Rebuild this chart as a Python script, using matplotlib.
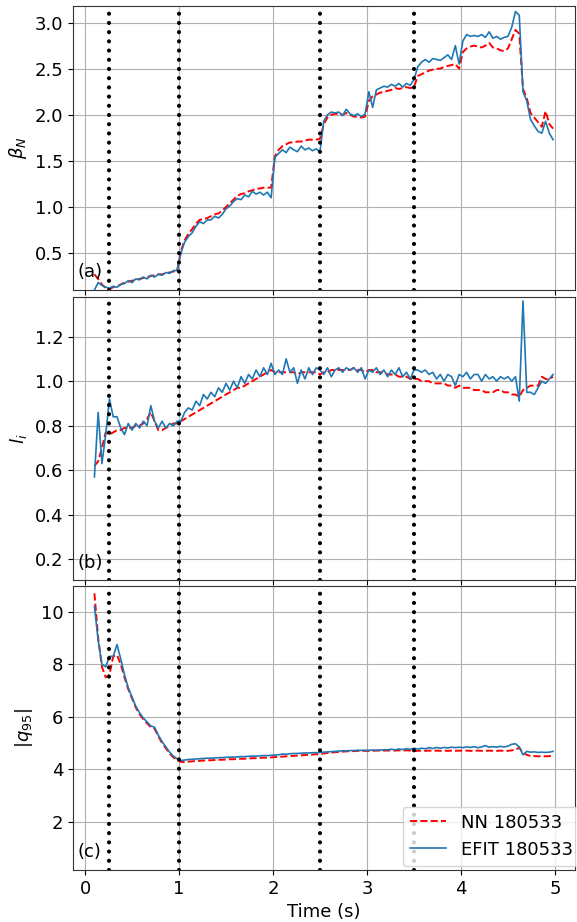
import numpy as np
import matplotlib
matplotlib.use("Agg")
import matplotlib.pyplot as plt

# Shot 180533: neural-network reconstruction vs. EFIT, sampled every 40 ms
time_s = np.round(np.arange(0.10, 4.99, 0.04), 2)

beta_efit = [
    0.10, 0.18, 0.15, 0.13, 0.12, 0.14, 0.13, 0.16, 0.17, 0.20,
    0.18, 0.22, 0.21, 0.24, 0.22, 0.26, 0.24, 0.27, 0.26, 0.29,
    0.28, 0.31, 0.31, 0.50, 0.62, 0.68, 0.72, 0.79, 0.84, 0.82,
    0.86, 0.86, 0.90, 0.88, 0.92, 0.98, 1.01, 1.06, 1.09, 1.08,
    1.13, 1.11, 1.17, 1.14, 1.16, 1.13, 1.16, 1.10, 1.54, 1.58,
    1.62, 1.59, 1.65, 1.62, 1.60, 1.66, 1.62, 1.64, 1.61, 1.63,
    1.60, 1.93, 2.00, 2.03, 2.02, 2.03, 1.99, 2.06, 2.01, 1.99,
    2.01, 1.98, 2.01, 2.25, 2.08, 2.27, 2.29, 2.31, 2.30, 2.33,
    2.31, 2.34, 2.30, 2.34, 2.32, 2.38, 2.52, 2.57, 2.60, 2.57,
    2.61, 2.60, 2.59, 2.62, 2.65, 2.60, 2.75, 2.55, 2.80, 2.87,
    2.85, 2.86, 2.85, 2.87, 2.84, 2.90, 2.83, 2.85, 2.82, 2.84,
    2.85, 2.95, 3.12, 3.08, 2.25, 2.15, 1.95, 1.88, 1.82, 1.80,
    1.93, 1.80, 1.73,
]
beta_nn = [
    0.27, 0.22, 0.16, 0.12, 0.11, 0.13, 0.14, 0.16, 0.18, 0.19,
    0.20, 0.21, 0.22, 0.23, 0.24, 0.25, 0.26, 0.27, 0.27, 0.28,
    0.29, 0.30, 0.31, 0.52, 0.64, 0.71, 0.76, 0.82, 0.86, 0.87,
    0.88, 0.90, 0.92, 0.93, 0.96, 1.00, 1.04, 1.08, 1.12, 1.14,
    1.15, 1.17, 1.18, 1.20, 1.20, 1.21, 1.21, 1.21, 1.55, 1.62,
    1.66, 1.68, 1.70, 1.70, 1.71, 1.71, 1.72, 1.73, 1.73, 1.73,
    1.74, 1.90, 1.97, 2.00, 2.01, 2.01, 2.00, 2.02, 2.00, 1.98,
    1.98, 1.97, 1.98, 2.15, 2.20, 2.22, 2.24, 2.25, 2.26, 2.27,
    2.29, 2.28, 2.29, 2.30, 2.29, 2.30, 2.42, 2.44, 2.46, 2.48,
    2.49, 2.50, 2.50, 2.52, 2.53, 2.54, 2.55, 2.50, 2.68, 2.72,
    2.74, 2.75, 2.74, 2.73, 2.75, 2.78, 2.73, 2.72, 2.70, 2.69,
    2.72, 2.82, 2.92, 2.88, 2.28, 2.18, 2.02, 1.97, 1.92, 1.87,
    2.04, 1.90, 1.85,
]

li_efit = [
    0.57, 0.86, 0.63, 0.76, 0.92, 0.84, 0.84, 0.79, 0.76, 0.81,
    0.78, 0.81, 0.79, 0.82, 0.80, 0.89, 0.82, 0.79, 0.82, 0.79,
    0.81, 0.80, 0.82, 0.82, 0.86, 0.88, 0.87, 0.91, 0.89, 0.94,
    0.92, 0.95, 0.93, 0.97, 0.95, 0.99, 0.96, 1.00, 0.97, 1.02,
    0.99, 1.03, 1.01, 1.05, 1.02, 1.06, 1.03, 1.08, 1.03, 1.05,
    1.03, 1.10, 1.04, 1.06, 0.99, 1.05, 1.01, 1.06, 1.03, 1.06,
    1.05, 1.03, 1.06, 1.02, 1.05, 1.06, 1.04, 1.06, 1.05, 1.06,
    1.04, 1.06, 1.01, 1.05, 1.04, 1.06, 1.03, 1.05, 1.02, 1.05,
    1.03, 1.06, 1.02, 1.04, 1.01, 1.05, 1.05, 1.04, 1.05, 1.03,
    1.04, 1.01, 1.03, 1.00, 1.03, 1.02, 0.98, 1.03, 1.02, 1.04,
    1.01, 1.03, 1.03, 1.00, 1.03, 1.01, 1.02, 1.00, 1.02, 1.01,
    1.02, 1.00, 1.02, 0.91, 1.36, 0.95, 0.95, 0.94, 0.97, 1.00,
    0.99, 1.01, 1.03,
]
li_nn = [
    0.62, 0.64, 0.70, 0.77, 0.76, 0.77, 0.78, 0.78, 0.79, 0.79,
    0.79, 0.80, 0.80, 0.81, 0.83, 0.86, 0.82, 0.78, 0.78, 0.79,
    0.80, 0.81, 0.81, 0.82, 0.83, 0.84, 0.85, 0.86, 0.87, 0.88,
    0.89, 0.90, 0.91, 0.92, 0.93, 0.94, 0.95, 0.96, 0.97, 0.97,
    0.98, 0.99, 1.00, 1.01, 1.02, 1.03, 1.04, 1.05, 1.04, 1.04,
    1.04, 1.04, 1.04, 1.04, 1.03, 1.04, 1.04, 1.04, 1.04, 1.04,
    1.03, 1.04, 1.04, 1.05, 1.05, 1.05, 1.05, 1.05, 1.05, 1.06,
    1.05, 1.05, 1.04, 1.05, 1.05, 1.04, 1.04, 1.04, 1.03, 1.03,
    1.03, 1.02, 1.02, 1.02, 1.01, 1.01, 1.01, 1.00, 1.00, 1.00,
    0.99, 0.99, 0.99, 0.99, 0.98, 0.98, 0.97, 0.98, 0.97, 0.97,
    0.97, 0.96, 0.96, 0.96, 0.95, 0.95, 0.95, 0.96, 0.96, 0.95,
    0.95, 0.94, 0.94, 0.93, 0.96, 0.97, 0.98, 0.98, 0.98, 1.02,
    1.01, 1.01, 1.02,
]

q95_efit = [
    10.2, 8.9, 8.0, 7.9, 8.3, 8.3, 8.75, 8.2, 7.6, 7.1,
    6.75, 6.4, 6.15, 5.95, 5.8, 5.65, 5.6, 5.3, 5.05, 4.85,
    4.65, 4.5, 4.4, 4.33, 4.35, 4.37, 4.38, 4.39, 4.40, 4.41,
    4.42, 4.42, 4.43, 4.44, 4.44, 4.45, 4.46, 4.46, 4.47, 4.48,
    4.48, 4.49, 4.50, 4.50, 4.51, 4.52, 4.52, 4.53, 4.54, 4.55,
    4.58, 4.57, 4.59, 4.60, 4.60, 4.61, 4.62, 4.62, 4.63, 4.63,
    4.64, 4.65, 4.66, 4.67, 4.68, 4.69, 4.70, 4.70, 4.71, 4.71,
    4.72, 4.72, 4.72, 4.72, 4.73, 4.72, 4.73, 4.74, 4.74, 4.76,
    4.74, 4.77, 4.75, 4.78, 4.76, 4.80, 4.77, 4.80, 4.78, 4.82,
    4.79, 4.83, 4.80, 4.83, 4.81, 4.84, 4.82, 4.84, 4.82, 4.85,
    4.83, 4.86, 4.82, 4.85, 4.90, 4.84, 4.86, 4.84, 4.87, 4.85,
    4.88, 4.95, 4.97, 4.85, 4.55, 4.68, 4.65, 4.66, 4.64, 4.65,
    4.64, 4.65, 4.68,
]
q95_nn = [
    10.7, 9.0, 7.9, 7.5, 7.6, 8.3, 8.35, 8.0, 7.5, 7.05,
    6.7, 6.35, 6.1, 5.9, 5.75, 5.6, 5.55, 5.25, 5.0, 4.8,
    4.6, 4.45, 4.35, 4.28, 4.27, 4.29, 4.30, 4.31, 4.32, 4.33,
    4.34, 4.34, 4.35, 4.36, 4.36, 4.37, 4.38, 4.38, 4.39, 4.40,
    4.40, 4.41, 4.42, 4.42, 4.43, 4.44, 4.44, 4.45, 4.46, 4.47,
    4.48, 4.49, 4.50, 4.51, 4.52, 4.53, 4.54, 4.55, 4.56, 4.57,
    4.58, 4.60, 4.62, 4.63, 4.65, 4.66, 4.67, 4.68, 4.69, 4.69,
    4.70, 4.70, 4.70, 4.70, 4.70, 4.71, 4.71, 4.71, 4.71, 4.72,
    4.71, 4.72, 4.71, 4.72, 4.71, 4.70, 4.70, 4.71, 4.70, 4.71,
    4.70, 4.71, 4.70, 4.71, 4.70, 4.71, 4.70, 4.71, 4.70, 4.71,
    4.70, 4.70, 4.71, 4.70, 4.70, 4.71, 4.70, 4.70, 4.71, 4.70,
    4.70, 4.72, 4.74, 4.82, 4.62, 4.55, 4.50, 4.50, 4.49, 4.50,
    4.49, 4.50, 4.50,
]

event_times = [0.26, 1.0, 2.5, 3.5]
panel_tags = ["(a)", "(b)", "(c)"]
y_labels = [r"$\beta_N$", r"$l_i$", r"$|q_{95}|$"]
y_ticks = [
    [0.5, 1.0, 1.5, 2.0, 2.5, 3.0],
    [0.2, 0.4, 0.6, 0.8, 1.0, 1.2],
    [2, 4, 6, 8, 10],
]
y_limits = [(0.10, 3.18), (0.107, 1.378), (0.16, 10.98)]
x_ticks = [0, 1, 2, 3, 4, 5]

plt.rcParams["font.family"] = ["DejaVu Sans"]
plt.rcParams["font.size"] = 13

fig = plt.figure(figsize=(5.77, 9.22), dpi=100)
left, width = 0.1265, 0.870
boxes = [(0.6855, 0.308), (0.3709, 0.307), (0.0564, 0.308)]
series = [(beta_nn, beta_efit), (li_nn, li_efit), (q95_nn, q95_efit)]

axes = []
for i, ((bottom, height), (nn, efit)) in enumerate(zip(boxes, series)):
    ax = fig.add_axes([left, bottom, width, height],
                      sharex=axes[0] if axes else None)
    ax.plot(time_s, nn, color="red", linestyle="--", linewidth=1.4,
            label="NN 180533")
    ax.plot(time_s, efit, color="#1f77b4", linewidth=1.2,
            label="EFIT 180533")
    for t in event_times:
        ax.axvline(t, color="black", linestyle=(0, (0.01, 2.2)),
                   linewidth=3, dash_capstyle="round")
    ax.grid(True, color="#b0b0b0", linewidth=0.8)
    ax.set_yticks(y_ticks[i])
    ax.set_ylim(*y_limits[i])
    ax.set_ylabel(y_labels[i])
    ax.text(0.009, 0.03, panel_tags[i], transform=ax.transAxes,
            ha="left", va="bottom", fontsize=13)
    ax.tick_params(labelsize=13)
    for s in ax.spines.values():
        s.set_color("#333333")
    axes.append(ax)

axes[0].set_xlim(-0.128, 5.213)
axes[0].set_xticks(x_ticks)
for ax in axes[:-1]:
    ax.tick_params(labelbottom=False)
axes[-1].set_xlabel("Time (s)")
axes[-1].legend(loc="lower left", bbox_to_anchor=(0.657, 0.014),
                fontsize=13, framealpha=0.8, borderaxespad=0.0)

fig.savefig("out.png", dpi=100)
